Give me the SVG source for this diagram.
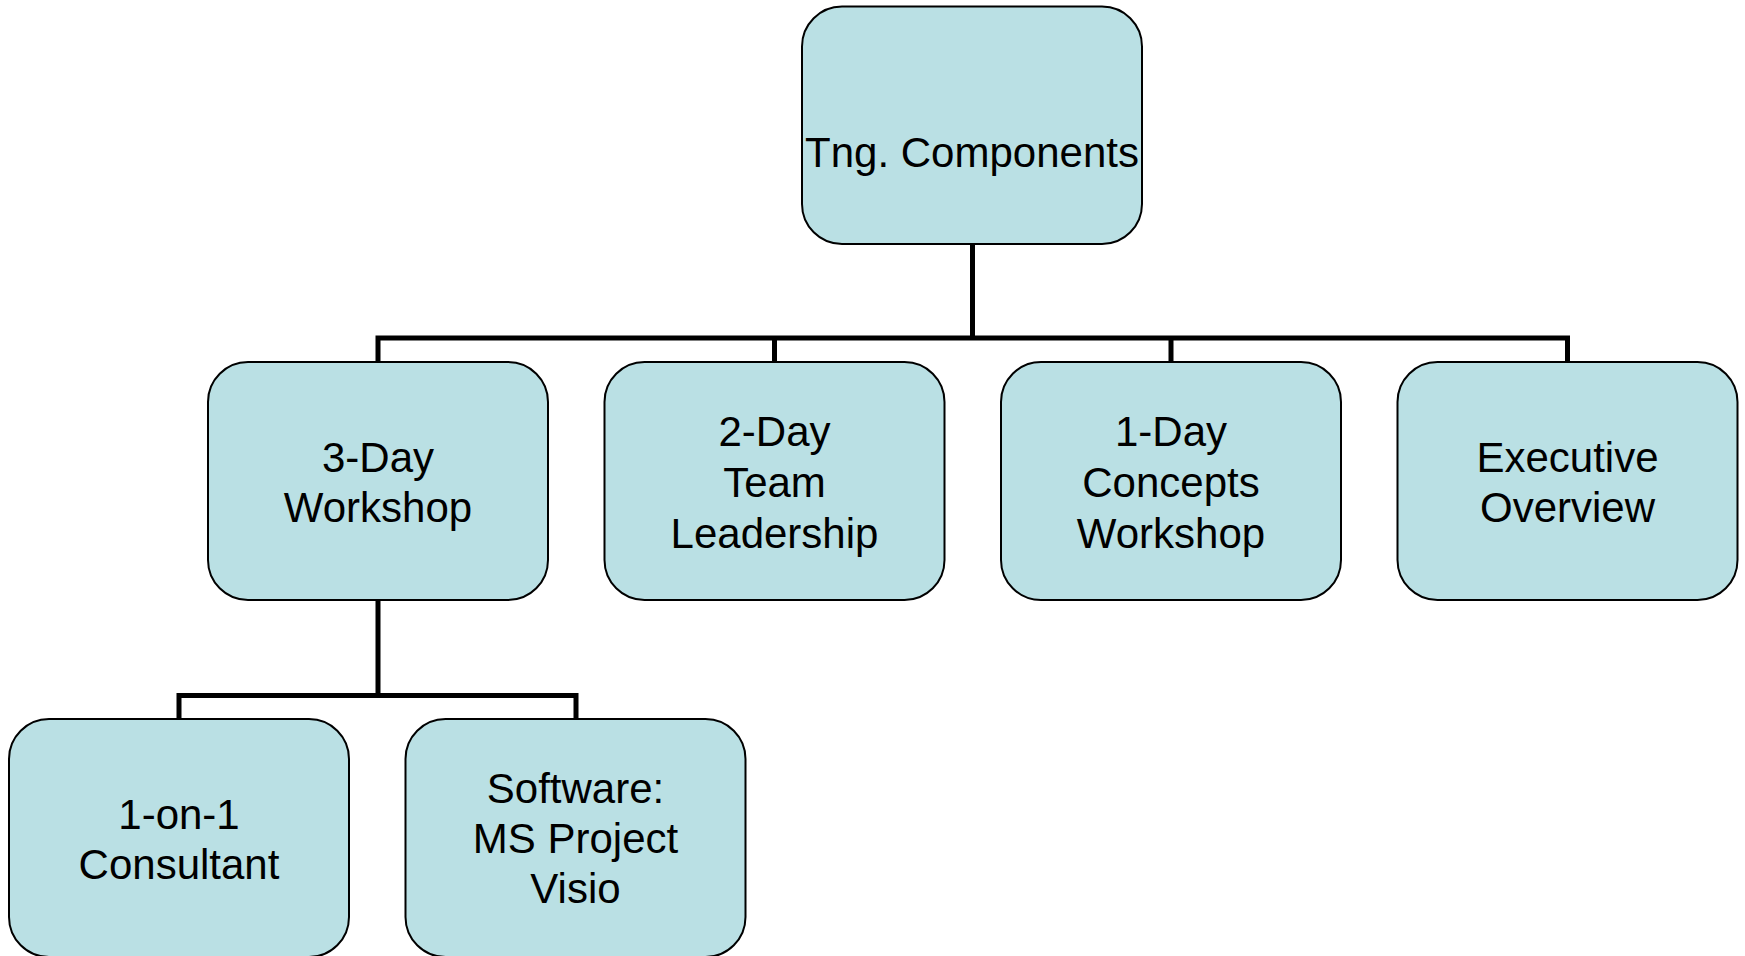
<svg xmlns="http://www.w3.org/2000/svg" width="1745" height="956" viewBox="0 0 1745 956">
<style>
.box{fill:#BAE0E4;stroke:#000;stroke-width:2}
.lbl{font-family:"Liberation Sans",Arial,sans-serif;font-size:42px;fill:#000;text-anchor:middle}
.conn{fill:none;stroke:#000;stroke-width:5;stroke-linejoin:miter;stroke-linecap:butt}
</style>
<rect width="1745" height="956" fill="#fff"/>
<g id="connectors">
<path class="conn" d="M972.5 244V338M378 362V338H1567.5V362M774.5 338V362M1171 338V362"/>
<path class="conn" d="M378 600V695.5M179 719V695.5H576V719"/>
</g>
<g id="n-root">
<rect class="box" x="802" y="6.5" width="340" height="237.5" rx="40"/>
<text class="lbl" x="972" y="167">Tng. Components</text>
</g>
<g id="n-3day">
<rect class="box" x="208" y="362" width="340" height="238" rx="40"/>
<text class="lbl" x="378" y="472">3-Day</text>
<text class="lbl" x="378" y="522">Workshop</text>
</g>
<g id="n-2day">
<rect class="box" x="604.5" y="362" width="340" height="238" rx="40"/>
<text class="lbl" x="774.5" y="446">2-Day</text>
<text class="lbl" x="774.5" y="497">Team</text>
<text class="lbl" x="774.5" y="548">Leadership</text>
</g>
<g id="n-1day">
<rect class="box" x="1001" y="362" width="340" height="238" rx="40"/>
<text class="lbl" x="1171" y="446">1-Day</text>
<text class="lbl" x="1171" y="497">Concepts</text>
<text class="lbl" x="1171" y="548">Workshop</text>
</g>
<g id="n-exec">
<rect class="box" x="1397.5" y="362" width="340" height="238" rx="40"/>
<text class="lbl" x="1567.5" y="472">Executive</text>
<text class="lbl" x="1567.5" y="522">Overview</text>
</g>
<g id="n-consult">
<rect class="box" x="9" y="719" width="340" height="238" rx="40"/>
<text class="lbl" x="179" y="829">1-on-1</text>
<text class="lbl" x="179" y="879">Consultant</text>
</g>
<g id="n-software">
<rect class="box" x="405.5" y="719" width="340" height="238" rx="40"/>
<text class="lbl" x="575.5" y="803">Software:</text>
<text class="lbl" x="575.5" y="853">MS Project</text>
<text class="lbl" x="575.5" y="903">Visio</text>
</g>
</svg>
